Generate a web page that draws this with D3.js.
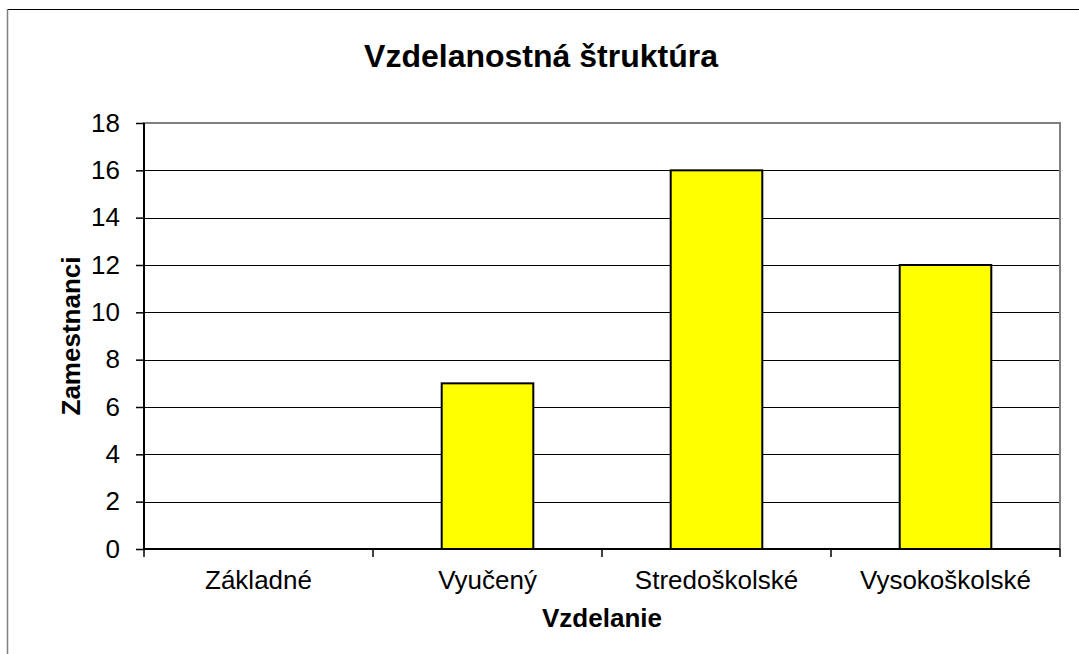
<!DOCTYPE html>
<html><head><meta charset="utf-8">
<script src="https://cdn.jsdelivr.net/npm/d3@7"></script>
<style>body{margin:0;background:#fff}svg{display:block}</style>
</head><body><svg id="c" width="1079" height="654"></svg>
<script>
const categories = ["Základné", "Vyučený", "Stredoškolské", "Vysokoškolské"];
const values = [0, 7, 16, 12];
const yTicks = [0, 2, 4, 6, 8, 10, 12, 14, 16, 18];
const title = "Vzdelanostná štruktúra";
const xTitle = "Vzdelanie";
const yTitle = "Zamestnanci";

const svg = d3.select("#c");
const L = 144, R = 1060, T = 123, B = 549;
const font = "Arial, 'Liberation Sans', sans-serif";

// outer frame
svg.append("line").attr("x1", 7).attr("x2", 1079).attr("y1", 9.5).attr("y2", 9.5).attr("stroke", "#000").attr("stroke-width", 1);
svg.append("line").attr("x1", 7.5).attr("x2", 7.5).attr("y1", 9).attr("y2", 654).attr("stroke", "#808080").attr("stroke-width", 1.5);

const x = d3.scaleBand().domain(categories).range([L, R]).paddingInner(0).paddingOuter(0);
const y = d3.scaleLinear().domain([0, 18]).range([B, T]);

// gridlines
svg.append("g").selectAll("line").data(yTicks.filter(t => t > 0 && t < 18)).join("line")
  .attr("x1", L).attr("x2", R).attr("y1", d => Math.round(y(d)) + 0.5).attr("y2", d => Math.round(y(d)) + 0.5)
  .attr("stroke", "#000").attr("stroke-width", 1);

// plot border
svg.append("rect").attr("x", L).attr("y", T).attr("width", R - L).attr("height", B - T)
  .attr("fill", "none").attr("stroke", "#808080").attr("stroke-width", 2);

// bars
const bw = x.bandwidth() * 0.4;
svg.append("g").selectAll("rect").data(categories.map((c, i) => ({c, v: values[i]})).filter(d => d.v > 0)).join("rect")
  .attr("x", d => x(d.c) + (x.bandwidth() - bw) / 2)
  .attr("y", d => y(d.v))
  .attr("width", bw)
  .attr("height", d => y(0) - y(d.v))
  .attr("fill", "#ffff00").attr("stroke", "#000").attr("stroke-width", 2);

// y axis
const ya = svg.append("g").attr("transform", `translate(${L},0)`)
  .call(d3.axisLeft(y).tickValues(yTicks).tickSize(8).tickPadding(16).tickFormat(d3.format("d")));
ya.select(".domain").attr("stroke", "#000").attr("stroke-width", 2).attr("d", `M0,${T}V${B}`);
ya.selectAll(".tick line").attr("stroke", "#000").attr("stroke-width", 1.5);
ya.selectAll(".tick text").attr("font-family", font).attr("font-size", 26).attr("fill", "#000");

// x axis
const xa = svg.append("g").attr("transform", `translate(0,${B})`)
  .call(d3.axisBottom(x).tickSize(0).tickPadding(22));
xa.select(".domain").attr("stroke", "#000").attr("stroke-width", 2).attr("d", `M${L},0H${R}`);
xa.selectAll(".tick text").attr("font-family", font).attr("font-size", 26).attr("fill", "#000");
// boundary ticks
const bounds = categories.map(c => x(c)).concat([R]);
svg.append("g").selectAll("line").data(bounds).join("line")
  .attr("x1", d => d).attr("x2", d => d).attr("y1", B).attr("y2", B + 8)
  .attr("stroke", "#000").attr("stroke-width", 1.5);

// titles
svg.append("text").attr("x", 541).attr("y", 67).attr("text-anchor", "middle")
  .attr("font-family", font).attr("font-size", 32).attr("font-weight", "bold").text(title);
svg.append("text").attr("x", (L + R) / 2).attr("y", 627).attr("text-anchor", "middle")
  .attr("font-family", font).attr("font-size", 26).attr("font-weight", "bold").text(xTitle);
svg.append("text").attr("transform", `translate(80,${(T + B) / 2}) rotate(-90)`).attr("text-anchor", "middle")
  .attr("font-family", font).attr("font-size", 26).attr("font-weight", "bold").text(yTitle);
</script></body></html>
